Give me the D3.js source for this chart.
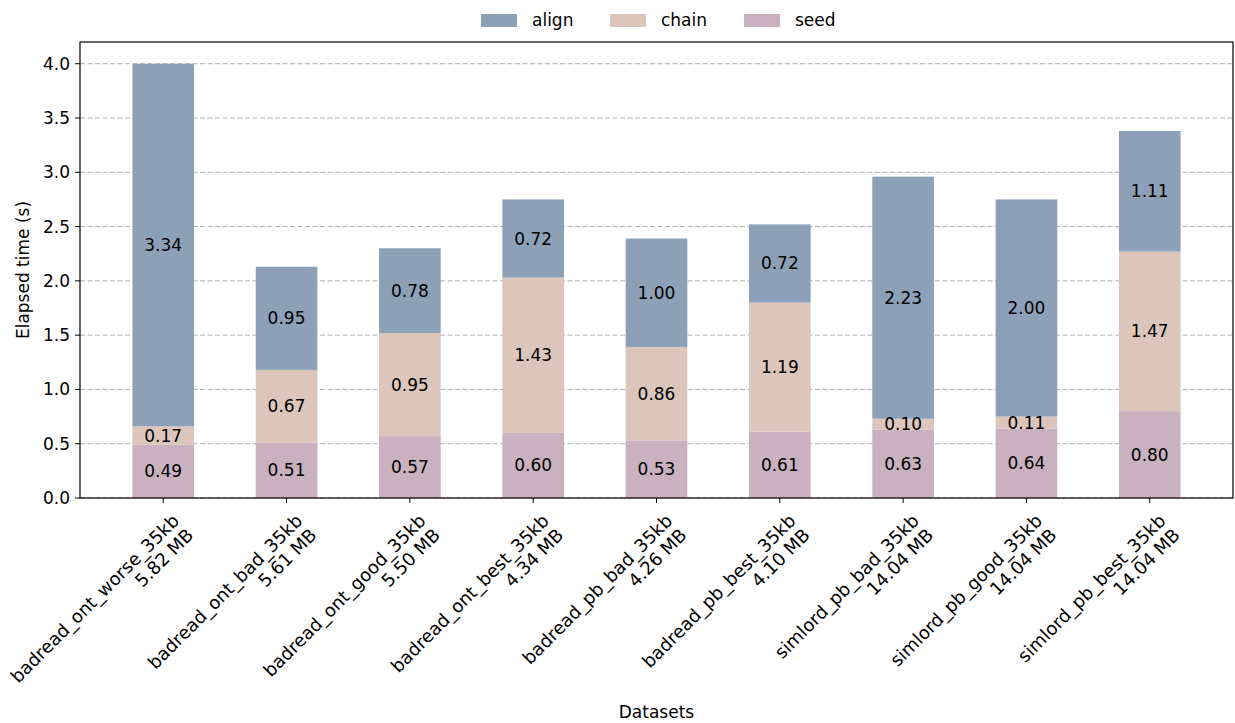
<!DOCTYPE html>
<html>
<head>
<meta charset="utf-8">
<script src="https://cdn.jsdelivr.net/npm/d3@7"></script>
<style>
  body { margin: 0; background: #fff; }
  svg text { font-family: "DejaVu Sans", sans-serif; fill: #000; }
</style>
</head>
<body>
<div id="chart"></div>
<script>
// stacked elapsed time per dataset (seed / chain / align)
const datasets = ['badread_ont_worse_35kb','badread_ont_bad_35kb','badread_ont_good_35kb','badread_ont_best_35kb',
  'badread_pb_bad_35kb','badread_pb_best_35kb','simlord_pb_bad_35kb','simlord_pb_good_35kb','simlord_pb_best_35kb'];
const sizes = ['5.82 MB','5.61 MB','5.50 MB','4.34 MB','4.26 MB','4.10 MB','14.04 MB','14.04 MB','14.04 MB'];
const seed  = [0.49, 0.51, 0.57, 0.60, 0.53, 0.61, 0.63, 0.64, 0.80];
const chain = [0.17, 0.67, 0.95, 1.43, 0.86, 1.19, 0.10, 0.11, 1.47];
const align = [3.34, 0.95, 0.78, 0.72, 1.00, 0.72, 2.23, 2.00, 1.11];
const yTicks = [0, 0.5, 1.0, 1.5, 2.0, 2.5, 3.0, 3.5, 4.0];

const W = 1235, H = 723;
const margin = {l: 80, r: 2, t: 42, b: 225};
const fs = 17;

const svg = d3.select('#chart').append('svg').attr('width', W).attr('height', H);

const x = d3.scaleLinear().domain([-0.675, 8.675]).range([margin.l, W - margin.r]);
const y = d3.scaleLinear().domain([0, 4.2]).range([H - margin.b, margin.t]);
const barW = x(0.5) - x(0);

const series = [
  {key: 'seed', vals: seed, color: '#c9b1bf'},
  {key: 'chain', vals: chain, color: '#dcc6bc'},
  {key: 'align', vals: align, color: '#8ca1b8'}
];

// grid
svg.append('g').selectAll('line').data(yTicks).join('line')
  .attr('x1', x.range()[0]).attr('x2', x.range()[1])
  .attr('y1', d => y(d)).attr('y2', d => y(d))
  .attr('stroke', '#b0b0b0').attr('stroke-width', 1).attr('stroke-dasharray', '5,2.5');

// bars
const bars = svg.append('g');
const labels = svg.append('g');
datasets.forEach((ds, i) => {
  let base = 0;
  series.forEach(s => {
    const v = s.vals[i];
    bars.append('rect')
      .attr('x', x(i) - barW / 2).attr('width', barW)
      .attr('y', y(base + v)).attr('height', y(base) - y(base + v))
      .attr('fill', s.color);
    labels.append('text')
      .attr('x', x(i)).attr('y', y(base + v / 2))
      .attr('text-anchor', 'middle').attr('dominant-baseline', 'central')
      .style('font-size', fs + 'px')
      .text(v.toFixed(2));
    base += v;
  });
});

// frame
svg.append('rect')
  .attr('x', x.range()[0]).attr('y', y.range()[1])
  .attr('width', x.range()[1] - x.range()[0]).attr('height', y.range()[0] - y.range()[1])
  .attr('fill', 'none').attr('stroke', '#000').attr('stroke-width', 1.2);

// y axis
const yAxis = svg.append('g');
yTicks.forEach(t => {
  yAxis.append('line').attr('x1', x.range()[0] - 5).attr('x2', x.range()[0])
    .attr('y1', y(t)).attr('y2', y(t)).attr('stroke', '#000').attr('stroke-width', 1);
  yAxis.append('text').attr('x', x.range()[0] - 10).attr('y', y(t))
    .attr('text-anchor', 'end').attr('dominant-baseline', 'central')
    .style('font-size', fs + 'px').text(t.toFixed(1));
});

// x axis
const axisY = y(0);
const xAxis = svg.append('g');
datasets.forEach((ds, i) => {
  xAxis.append('line').attr('x1', x(i)).attr('x2', x(i))
    .attr('y1', axisY).attr('y2', axisY + 5).attr('stroke', '#000').attr('stroke-width', 1);
  const t = xAxis.append('text')
    .attr('transform', `translate(${x(i) + 17},${axisY + 24}) rotate(-45)`)
    .attr('text-anchor', 'end')
    .style('font-size', '18px');
  t.append('tspan').attr('x', 0).attr('y', 0).text(ds);
  t.append('tspan').attr('x', 0).attr('dy', '1.12em').text(sizes[i]);
});

// axis titles
svg.append('text').attr('x', (x.range()[0] + x.range()[1]) / 2).attr('y', 718)
  .attr('text-anchor', 'middle').style('font-size', fs + 'px').text('Datasets');
svg.append('text').attr('transform', `translate(29,${(y.range()[0] + y.range()[1]) / 2}) rotate(-90)`)
  .attr('text-anchor', 'middle').style('font-size', fs + 'px').text('Elapsed time (s)');

// legend
const legendItems = [series[2], series[1], series[0]];
const legendX = [481, 610, 744];
const legend = svg.append('g');
legendItems.forEach((s, i) => {
  legend.append('rect').attr('x', legendX[i]).attr('y', 14).attr('width', 36).attr('height', 13).attr('fill', s.color);
  legend.append('text').attr('x', legendX[i] + 51).attr('y', 26).style('font-size', fs + 'px').text(s.key);
});
</script>
</body>
</html>
